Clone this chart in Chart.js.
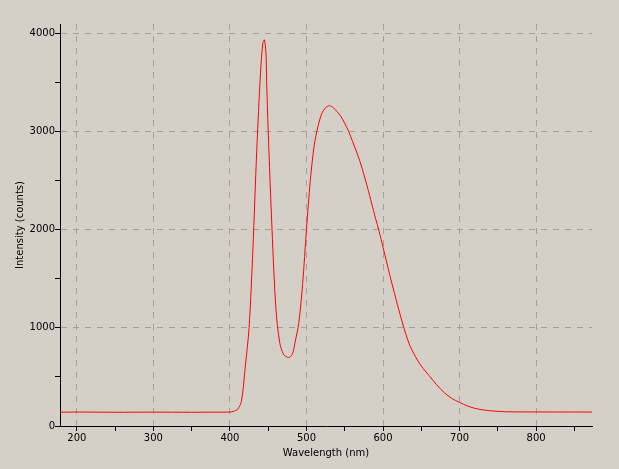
<!DOCTYPE html>
<html><head><script src="https://cdn.jsdelivr.net/npm/chart.js@4"></script>
<style>html,body{margin:0;background:#d4d0c8}#w{width:619px;height:469px}</style></head>
<body><div id="w"><canvas id="c"></canvas></div>
<script>
const wavelengths=[178,200,250,300,350,380,400,405,410,415,420,425,430,435,440,443,445,447,448,450,455,460,465,470,475,478,482,485,490,495,500,505,510,515,520,525,530,535,540,545,550,555,560,565,570,575,580,585,590,595,600,605,610,615,620,625,630,635,640,645,650,655,660,670,680,690,700,710,720,730,740,760,800,873];
const intensity=[140,142,140,141,140,141,142,150,170,250,600,1000,1800,2800,3600,3900,3930,3800,3500,3000,2000,1200,850,730,700,700,740,850,1050,1450,2000,2500,2850,3050,3180,3240,3260,3240,3200,3150,3080,3000,2900,2800,2690,2560,2420,2270,2120,1980,1820,1660,1500,1350,1200,1060,930,820,740,670,610,560,515,420,340,280,240,205,180,165,155,145,143,142];
const xTicks=[200,250,300,350,400,450,500,550,600,650,700,750,800,850];
const yTicks=[0,500,1000,1500,2000,2500,3000,3500,4000];
const font={family:'DejaVu Sans',size:10};
new Chart(document.getElementById('c'),{type:'line',
data:{datasets:[{data:wavelengths.map((x,i)=>({x,y:intensity[i]})),borderColor:'#ff0000',borderWidth:1,pointRadius:0,tension:0.3}]},
options:{responsive:true,maintainAspectRatio:false,animation:false,
plugins:{legend:{display:false},tooltip:{enabled:false}},
layout:{padding:{left:0,top:24,right:27,bottom:10}},
scales:{
x:{type:'linear',min:178,max:873,
afterBuildTicks:a=>{a.ticks=xTicks.map(v=>({value:v}))},
afterFit:a=>{a.height=33},
ticks:{color:'#000',font,maxRotation:0,padding:1,callback:v=>v%100===0?v:''},
grid:{color:c=>c.tick&&c.tick.value%100===0?'#a0a0a0':'rgba(0,0,0,0)',tickColor:'#000',tickLength:5,tickBorderDash:[]},
border:{display:true,color:'#000',width:1,dash:[6,6]},
title:{display:true,text:'Wavelength (nm)',color:'#000',font,padding:{top:0,bottom:0}}},
y:{min:0,max:4092,
afterBuildTicks:a=>{a.ticks=yTicks.map(v=>({value:v}))},
afterFit:a=>{a.width=60},
ticks:{color:'#000',font,padding:0,callback:v=>v%1000===0?v:''},
grid:{color:c=>c.tick&&c.tick.value%1000===0&&c.tick.value>0?'#a0a0a0':'rgba(0,0,0,0)',tickColor:'#000',tickLength:5,tickBorderDash:[]},
border:{display:true,color:'#000',width:1,dash:[6,6]},
title:{display:true,text:'Intensity (counts)',color:'#000',font,padding:{top:14,bottom:6}}}
}}});
</script></body></html>
